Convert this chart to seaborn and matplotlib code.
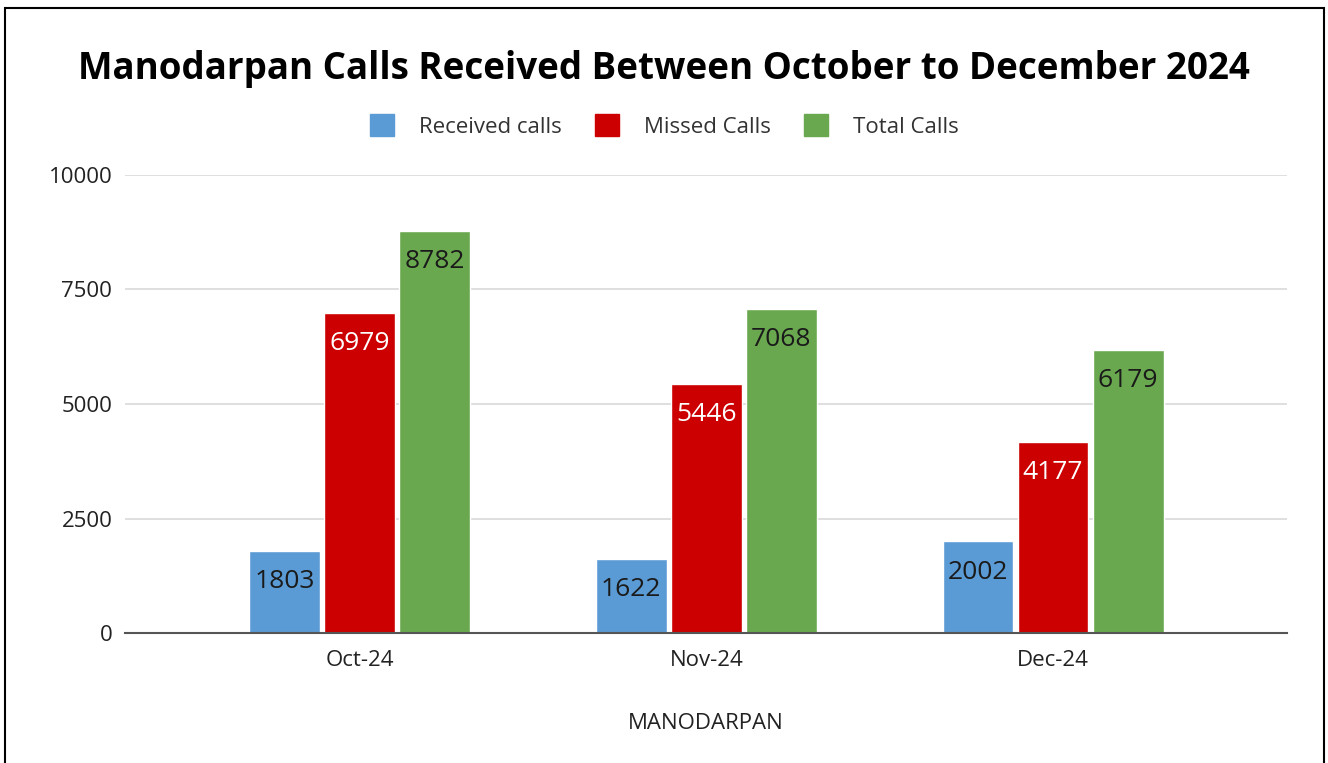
import numpy as np
import pandas as pd
import matplotlib
matplotlib.use("Agg")
import matplotlib.pyplot as plt
import seaborn as sns
from matplotlib.patches import Rectangle, Patch

# --- Data ---
months = ["Oct-24", "Nov-24", "Dec-24"]
received_calls = [1803, 1622, 2002]
missed_calls = [6979, 5446, 4177]
total_calls = [8782, 7068, 6179]
series_names = ["Received calls", "Missed Calls", "Total Calls"]
series_colors = ["#5b9bd5", "#cc0000", "#6aa84f"]
label_colors = ["#1a1a1a", "white", "#1a1a1a"]

df = pd.DataFrame({
    "Month": months * 3,
    "Series": [s for s in series_names for _ in months],
    "Calls": received_calls + missed_calls + total_calls,
})

sns.set_style("white")
plt.rcParams["font.family"] = ["Open Sans", "DejaVu Sans"]

fig = plt.figure(figsize=(13.28, 7.63), dpi=100)
ax = fig.add_axes([0.094, 0.170, 0.875, 0.601])

sns.barplot(data=df, x="Month", y="Calls", hue="Series", hue_order=series_names,
            palette=series_colors, width=0.65, gap=0.06, saturation=1,
            legend=False, ax=ax)

# Value labels inside the top of each bar
for cont, col in zip(ax.containers, label_colors):
    ax.bar_label(cont, labels=[f"{int(v)}" for v in cont.datavalues],
                 label_type="edge", padding=-31, color=col, fontsize=19)

ax.set_xlim(-0.677, 2.674)
ax.set_ylim(0, 10000)
ax.set_yticks([0, 2500, 5000, 7500, 10000])
ax.yaxis.grid(True, color="#d9d9d9", lw=1.2)
ax.set_axisbelow(True)
for s in ["top", "right", "left"]:
    ax.spines[s].set_visible(False)
ax.spines["bottom"].set_color("#555555")
ax.spines["bottom"].set_linewidth(1.5)
ax.tick_params(axis="both", length=0, labelsize=16, colors="#222222")
ax.tick_params(axis="x", pad=12)
ax.tick_params(axis="y", pad=9)
ax.set_xlabel("MANODARPAN", fontsize=16, color="#222222", labelpad=30)
ax.set_ylabel("")

fig.text(0.5, 0.910, "Manodarpan Calls Received Between October to December 2024",
         ha="center", va="center", fontsize=26.5, fontweight="bold", color="black")

handles = [Patch(facecolor=c, edgecolor=c) for c in series_colors]
fig.legend(handles, series_names, loc="center", bbox_to_anchor=(0.5, 0.835),
           ncol=3, frameon=False, fontsize=16, handlelength=1.1, handleheight=1.1,
           columnspacing=1.5, handletextpad=1.1, labelcolor="#333333")

# Outer frame
fig.patches.append(Rectangle((0.004, -0.01), 0.993, 0.999, transform=fig.transFigure,
                             fill=False, edgecolor="black", lw=1.5))

fig.savefig("out.png", dpi=100)
